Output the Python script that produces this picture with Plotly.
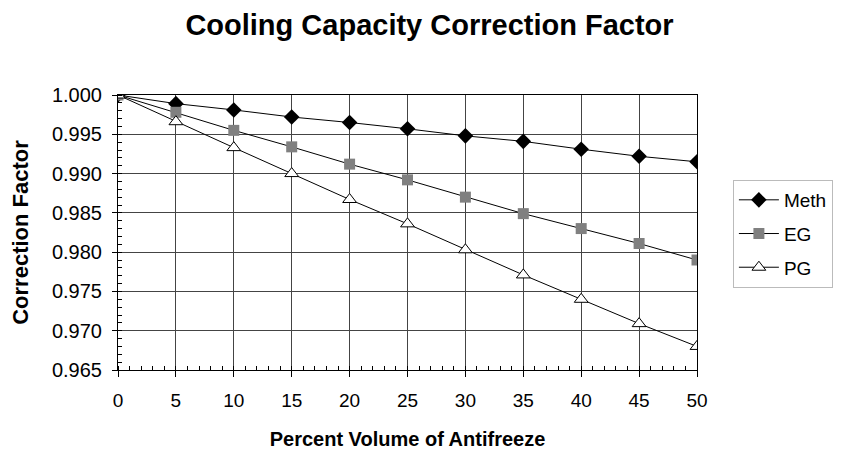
import plotly.graph_objects as go

x_vals = [0, 5, 10, 15, 20, 25, 30, 35, 40, 45, 50]
meth = [1.0, 0.9989, 0.9981, 0.9972, 0.9965, 0.9957, 0.9948, 0.9941, 0.9931, 0.9922, 0.9915]
eg = [1.0, 0.9978, 0.9955, 0.9934, 0.9912, 0.9892, 0.9870, 0.9849, 0.9830, 0.9811, 0.9790]
pg = [1.0, 0.9966, 0.9933, 0.9900, 0.9867, 0.9836, 0.9803, 0.9771, 0.9740, 0.9709, 0.9680]

FONT = "Liberation Sans, Arial, sans-serif"

fig = go.Figure()
fig.add_trace(go.Scatter(x=x_vals, y=meth, name="Meth", mode="lines+markers", legendgroup="a",
                         line=dict(color="black", width=1),
                         marker=dict(symbol="diamond", size=12, color="black")))
fig.add_trace(go.Scatter(x=x_vals, y=eg, name="EG", mode="lines+markers", legendgroup="b",
                         line=dict(color="black", width=1),
                         marker=dict(symbol="square", size=11, color="#808080")))
fig.add_trace(go.Scatter(x=x_vals, y=pg, name="PG", mode="lines+markers", legendgroup="c",
                         line=dict(color="black", width=1),
                         marker=dict(symbol="triangle-up", size=12, color="white",
                                     line=dict(color="black", width=1))))

fig.update_layout(
    width=843, height=454,
    margin=dict(l=110, r=154, t=87, b=92),
    paper_bgcolor="white", plot_bgcolor="white",
    font=dict(family=FONT, color="black"),
    title=dict(text="<b>Cooling Capacity Correction Factor</b>", x=0.5, xanchor="center",
               y=0.962, yanchor="middle", font=dict(size=29, family=FONT, color="black")),
    legend=dict(x=1.062, xanchor="left", y=0.691, yanchor="top",
                bordercolor="#bbbbbb", borderwidth=1, font=dict(size=19, family=FONT),
                tracegroupgap=6, traceorder="grouped", itemsizing="trace", itemwidth=40),
    showlegend=True,
)

fig.update_xaxes(
    range=[0, 50], tickmode="linear", tick0=0, dtick=5, automargin=False,
    showgrid=True, gridcolor="#444444", gridwidth=1,
    showline=True, linecolor="black", linewidth=1, mirror=True,
    ticks="outside", ticklen=6, tickcolor="black", ticklabelstandoff=7,
    minor=dict(dtick=1, ticks="inside", ticklen=4, tickcolor="black", showgrid=False),
    tickfont=dict(size=19, family=FONT),
    title=dict(text="<b>Percent Volume of Antifreeze</b>", font=dict(size=20, family=FONT), standoff=22),
    zeroline=False,
)
fig.update_yaxes(
    range=[0.965, 1.0], tickmode="linear", tick0=0.965, dtick=0.005, tickformat=".3f",
    automargin=False,
    showgrid=True, gridcolor="#444444", gridwidth=1,
    showline=True, linecolor="black", linewidth=1, mirror=True,
    ticks="outside", ticklen=5, tickcolor="black", ticklabelstandoff=6,
    minor=dict(dtick=0.001, ticks="inside", ticklen=4, tickcolor="black", showgrid=False),
    tickfont=dict(size=20, family=FONT),
    title=dict(text="<b>Correction Factor</b>", font=dict(size=22, family=FONT), standoff=20),
    zeroline=False,
)

fig.write_html("out.html")
